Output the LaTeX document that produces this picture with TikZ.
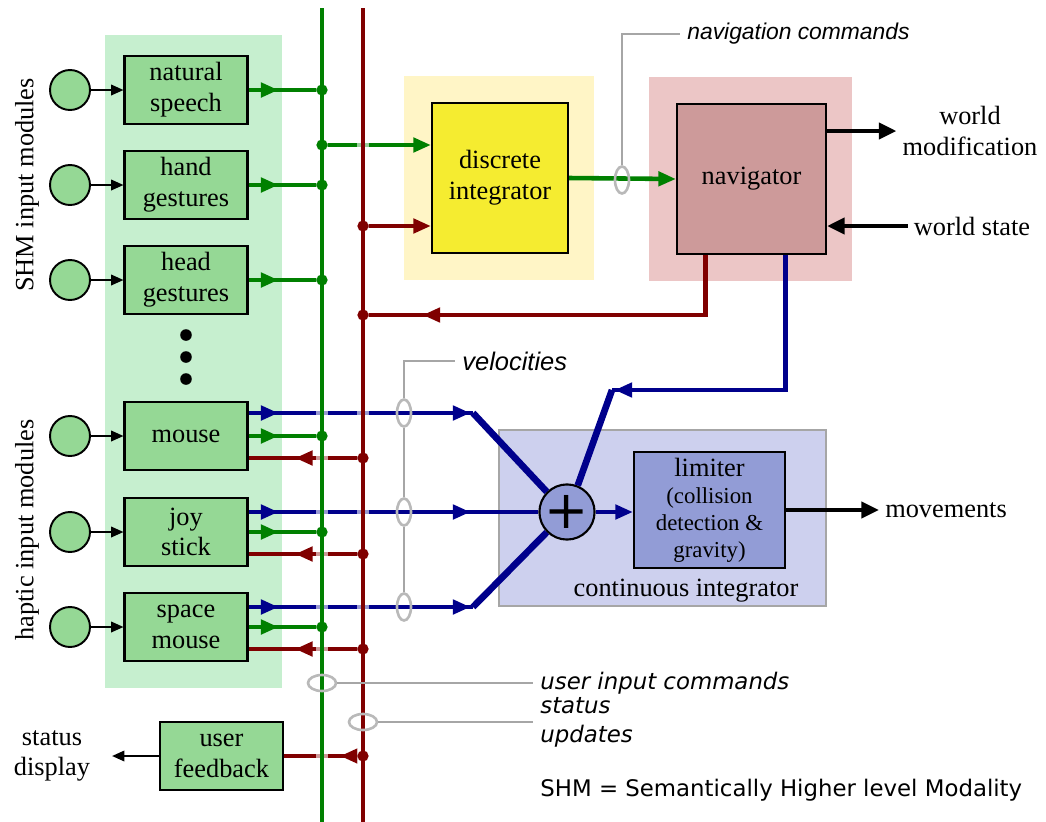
\documentclass[tikz,border=0pt]{standalone}
\usepackage{fontspec}
\setmainfont{Liberation Serif}
\newfontfamily\arialfont{Liberation Sans}
\newfontfamily\verdfont{DejaVu Sans}
\usetikzlibrary{positioning,calc,arrows.meta,shapes.geometric,decorations.markings}

\definecolor{sigG}{RGB}{0,128,0}
\definecolor{sigR}{RGB}{128,0,0}
\definecolor{sigB}{RGB}{0,0,140}
\definecolor{bggreen}{RGB}{198,239,207}
\definecolor{modgreen}{RGB}{149,216,149}
\definecolor{bgyellow}{RGB}{255,245,198}
\definecolor{diyellow}{RGB}{245,236,48}
\definecolor{bgpink}{RGB}{236,198,198}
\definecolor{navpink}{RGB}{205,154,154}
\definecolor{bgblue}{RGB}{205,208,238}
\definecolor{limblue}{RGB}{146,156,214}
\definecolor{ringgray}{RGB}{185,185,185}

\tikzset{
  serif15/.style={font=\rmfamily\fontsize{15}{17.5}\selectfont},
  modbox/.style={draw, line width=1.2pt, fill=modgreen, minimum width=2.46cm,
    minimum height=1.36cm, align=center, inner sep=1pt, serif15},
  srcdot/.style={circle, draw, line width=1.1pt, fill=modgreen, minimum size=0.8cm, inner sep=0pt},
  flowtip/.tip={Triangle[length=10pt,width=8pt]},
  bigtip/.tip={Triangle[length=10pt,width=9pt]},
  flowmark/.style={postaction={decorate}, decoration={markings,
    mark=at position #1 with {\arrow{flowtip}}}},
  twomarks/.style={postaction={decorate}, decoration={markings,
    mark=at position 0.6cm with {\arrow{flowtip}},
    mark=at position 4.44cm with {\arrow{flowtip}}}},
  gsig/.style={color=sigG, line width=2.6pt},
  rsig/.style={color=sigR, line width=2.6pt},
  bsig/.style={color=sigB, line width=2.6pt, line join=miter},
  bdiag/.style={color=sigB, line width=3.8pt},
  busline/.style={line width=2.2pt},
  thinarrow/.style={line width=1pt, -{Triangle[length=7pt,width=6pt]}},
  worldarrow/.style={line width=2.6pt, -bigtip},
  halo/.style={white, opacity=0.6, line width=7pt},
  ring/.style={ellipse, draw=ringgray, line width=1.5pt, minimum width=0.28cm,
    minimum height=0.54cm, inner sep=0pt},
  flatring/.style={ellipse, draw=ringgray, line width=1.5pt, minimum width=0.56cm,
    minimum height=0.32cm, inner sep=0pt},
  noteline/.style={draw=ringgray!90!black, line width=1pt},
  note/.style={inner sep=4pt, font=\arialfont\itshape\fontsize{13}{15}\selectfont},
  bignote/.style={inner sep=4pt, font=\verdfont\fontsize{13}{16.5}\selectfont}
}

\begin{document}
\begin{tikzpicture}[x=0.02cm,y=-0.02cm]
    \useasboundingbox (0,0) rectangle (1046,822);

    % Backgrounds
    \fill[bggreen] (105,35) rectangle (282,688);
    \fill[bgyellow] (404,76) rectangle (594,280);
    \fill[bgpink] (649,77) rectangle (852,281);
    \draw[gray!70, line width=0.8pt, fill=bgblue] (499,430) rectangle (826,606);

    % Side labels
    \node[rotate=90, serif15] (shmlab) at (27,185) {SHM input modules};
    \node[rotate=90, serif15] (haplab) at (27,530) {haptic input modules};

    % Input modules
    \foreach \m/\y/\t in {speech/90/{natural\\speech}, hand/185/{hand\\gestures},
        head/280/{head\\gestures}, mouse/436/mouse, joy/532/{joy\\stick},
        space/627/{space\\mouse}}{
      \node[modbox] (\m) at (186,\y) {\t};
      \node[srcdot] (c\m) at (70,\y) {};
      \draw[thinarrow] (c\m) -- (\m);
    }
    \foreach \y in {335,357,379} \fill (186,\y) circle (3.3pt);

    % Processing blocks
    \node[draw, line width=1.2pt, fill=diyellow, minimum width=2.72cm, minimum height=3cm,
      align=center, serif15] (di) at (500,178) {discrete\\integrator};
    \node[draw, line width=1.2pt, fill=navpink, minimum width=2.98cm, minimum height=3cm,
      serif15] (nav) at (751.5,179) {navigator};
    \node[circle, draw, line width=1.2pt, fill=limblue, minimum size=1.08cm, inner sep=0pt,
      font=\verdfont\fontsize{30}{30}\selectfont] (plus) at (567,512) {+};
    \node[draw, line width=1.2pt, fill=limblue, minimum width=3.02cm, minimum height=2.32cm,
      align=center, inner sep=1pt, font=\rmfamily\fontsize{13}{15.3}\selectfont] (lim) at (709.5,510)
      {{\fontsize{15}{15}\selectfont limiter}\\(collision\\detection \&\\gravity)};
    \node[serif15] (cilab) at (686,591) {continuous integrator};
    \node[modbox] (fb) at (221.5,756) {user\\feedback};

    % Outer labels
    \node[align=center, serif15] (wmod) at (970,131) {world\\modification};
    \node[serif15] (wstate) at (972,226) {world state};
    \node[serif15] (moves) at (946,510) {movements};
    \node[align=center, serif15] (sdisp) at (52,756) {status\\display};

    % Bus positions
    \coordinate (gbus) at (322,8);
    \coordinate (rbus) at (363,8);
    \coordinate (gbusend) at (322,822);
    \coordinate (rbusend) at (363,822);
    \coordinate (bend) at (473,0);
    \coordinate (diin1) at ($(di.west)+(0,-33)$);
    \coordinate (diin2) at ($(di.west)+(0,48)$);
    \coordinate (navr) at ($(nav.south)+(-46,0)$);
    \coordinate (navb) at ($(nav.south)+(34,0)$);
    \coordinate (backrow) at (0,315);
    \coordinate (navbend) at (612,390);
    \coordinate (mbend) at ($(mouse.east -| bend)+(0,-23)$);
    \coordinate (sbend) at ($(space.east -| bend)+(0,-20)$);

    % Velocity lines
    \draw[bsig, twomarks] ($(mouse.east)+(0,-23)$) -- (mbend);
    \draw[bdiag] (mbend) -- (plus.135);
    \draw[bsig, twomarks] ($(joy.east)+(0,-20)$) -- (plus.west);
    \draw[bsig, twomarks] ($(space.east)+(0,-20)$) -- (sbend);
    \draw[bdiag] (sbend) -- (plus.225);
    \draw[bsig, flowmark=6.12cm] (navb) |- (navbend);
    \draw[bdiag] (navbend) -- (plus.68);
    \draw[bsig, -flowtip] (plus.east) -- (lim.west |- plus.east);

    % Command lines
    \foreach \m in {speech,hand,head,mouse,joy,space}
      \draw[gsig, flowmark=0.6cm] (\m.east) -- (\m.east -| gbus);
    \foreach \m in {mouse,joy,space}
      \draw[rsig, flowmark=1.36cm] ($(\m.east -| rbus)+(0,22)$) -- ($(\m.east)+(0,22)$);
    \draw[gsig, -flowtip] (gbus |- diin1) -- (diin1);
    \draw[rsig, -flowtip] (rbus |- diin2) -- (diin2);
    \draw[gsig, -flowtip] (di.east) -- (nav.west);
    \draw[rsig, flowmark=6.86cm] (navr) |- (rbus |- backrow);
    \draw[rsig, flowmark=0.46cm] (rbus |- fb.east) -- (fb.east);

    % Buses
    \draw[halo] (gbus) -- (gbusend);
    \draw[halo] (rbus) -- (rbusend);
    \draw[sigG, busline] (gbus) -- (gbusend);
    \draw[sigR, busline] (rbus) -- (rbusend);
    \foreach \y in {90,145,185,280,436,532,627} \fill[sigG] (322,\y) circle (3.2pt);
    \foreach \y in {226,315,458,554,649,756} \fill[sigR] (363,\y) circle (3.2pt);

    % World and output arrows
    \draw[worldarrow] ($(nav.east)+(0,-48)$) -- (wmod.west |- {$(nav.east)+(0,-48)$});
    \draw[worldarrow] (wstate.west) -- (nav.east |- wstate.west);
    \draw[worldarrow] (lim.east) -- (moves.west |- lim.east);
    \draw[thinarrow, shorten >=9pt] (fb.west) -- (sdisp.east |- fb.west);

    % Annotations
    \node[ring] (navring) at (622,180) {};
    \node[note, anchor=west] (navnote) at (680,34) {navigation commands};
    \draw[noteline] (navring.north) |- (navnote.west);
    \foreach \i/\y in {1/413,2/512,3/607} \node[ring] (vring\i) at (404,\y) {};
    \node[note, anchor=west, font=\arialfont\itshape\fontsize{14.5}{16}\selectfont] (velnote) at (455,361) {velocities};
    \draw[noteline] (vring3.north) -- (vring2.south) (vring2.north) -- (vring1.south);
    \draw[noteline] (vring1.north) |- (velnote.west);
    \node[flatring] (uiring) at (322,683) {};
    \node[bignote, anchor=west, font=\verdfont\itshape\fontsize{13}{16.5}\selectfont] (uinote) at (533,683) {user input commands};
    \draw[noteline] (uiring.east) -- (uinote.west);
    \node[flatring] (string) at (363,722) {};
    \node[bignote, anchor=west, align=left, font=\verdfont\itshape\fontsize{13}{16.5}\selectfont] (stnote) at (533,722) {status\\updates};
    \draw[noteline] (string.east) -- (stnote.west);
    \node[bignote, anchor=west] (shmnote) at (533,790) {SHM = Semantically Higher level Modality};
\end{tikzpicture}
\end{document}
